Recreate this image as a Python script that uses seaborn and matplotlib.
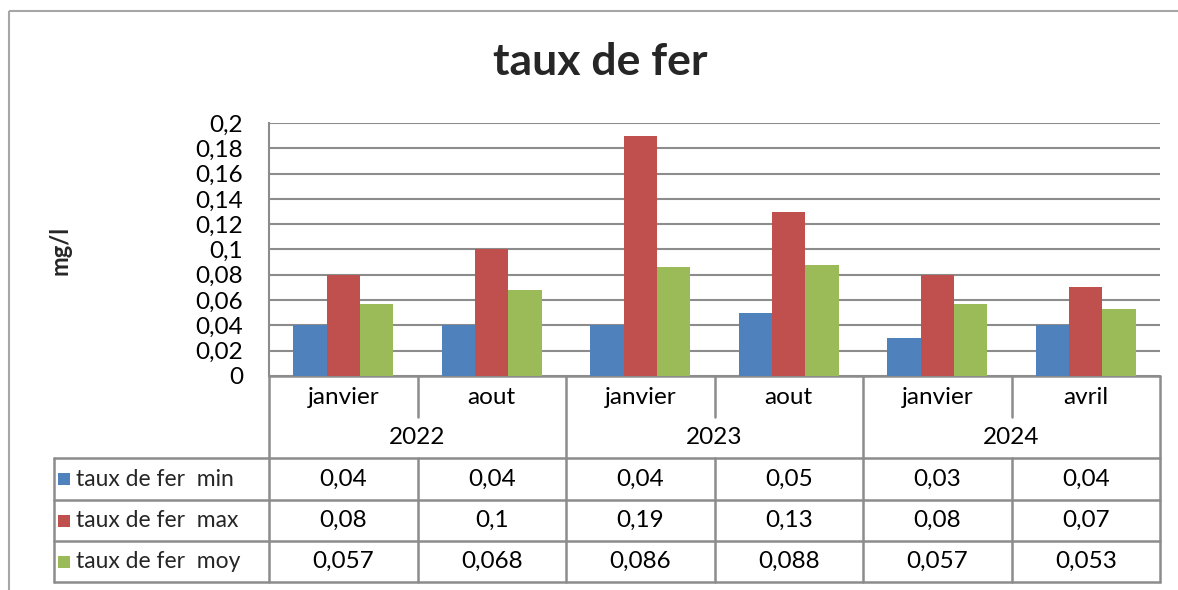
"""
taux de fer : barres groupées avec table de données sous le graphique (style Excel).
"""

import pandas as pd
import matplotlib.pyplot as plt
import matplotlib.transforms as mtransforms
from matplotlib.patches import Rectangle
from matplotlib.ticker import FuncFormatter
import seaborn as sns

# Données
annees = ["2022", "2023", "2024"]
mois = ["janvier", "aout", "janvier", "aout", "janvier", "avril"]
annee_de_mois = ["2022", "2022", "2023", "2023", "2024", "2024"]
series = ["taux de fer  min", "taux de fer  max", "taux de fer  moy"]
fer_min = [0.04, 0.04, 0.04, 0.05, 0.03, 0.04]
fer_max = [0.08, 0.1, 0.19, 0.13, 0.08, 0.07]
fer_moy = [0.057, 0.068, 0.086, 0.088, 0.057, 0.053]
couleurs = ["#4F81BD", "#C0504D", "#9BBB59"]

periodes = [f"{a} {m}" for a, m in zip(annee_de_mois, mois)]
df = pd.DataFrame({
    "periode": periodes * 3,
    "serie": [s for s in series for _ in periodes],
    "valeur": fer_min + fer_max + fer_moy,
})


def virgule(v):
    s = f"{v:.3f}".rstrip("0").rstrip(".")
    return s.replace(".", ",")


sns.set_style("white")
plt.rcParams["font.family"] = ["Lato", "DejaVu Sans"]

W, H = 1178, 590
FS = 17.5
fig = plt.figure(figsize=(W / 100, H / 100), dpi=100)

# axe "pixels" pour le cadre et la table
tax = fig.add_axes([0, 0, 1, 1], zorder=0)
tax.set_xlim(0, W)
tax.set_ylim(H, 0)
tax.axis("off")

# axe du graphique
x0, x1, y_top, y_bot = 269, 1160, 123, 376
ax = fig.add_axes([x0 / W, 1 - y_bot / H, (x1 - x0) / W, (y_bot - y_top) / H], zorder=1)
ax.patch.set_alpha(0)

sns.barplot(
    data=df, x="periode", y="valeur", hue="serie", order=periodes,
    hue_order=series, palette=couleurs, saturation=1, width=0.674,
    linewidth=0, legend=False, ax=ax,
)
ax.set_xlim(-0.5, len(periodes) - 0.5)
ax.set_ylim(0, 0.2)
ax.set_yticks([i * 0.02 for i in range(11)])
ax.yaxis.set_major_formatter(FuncFormatter(lambda v, p: virgule(v)))
ax.tick_params(axis="y", length=0, pad=18.5, labelsize=FS, labelcolor="black")
ax.set_xticks([])
ax.set_xlabel("")
ax.set_ylabel("")
ax.grid(axis="y", color="#8c8c8c", linewidth=1.5)
ax.set_axisbelow(True)
for side in ["top", "right", "bottom"]:
    ax.spines[side].set_visible(False)
ax.spines["left"].set_color("#8c8c8c")
ax.spines["left"].set_linewidth(1.5)

# cadre du graphique
tax.add_patch(Rectangle((9, 11), W, H, fill=False, edgecolor="#a6a6a6", linewidth=1.5))

# titres
fig.text(600 / W, 1 - 62 / H, "taux de fer", ha="center", va="center",
         fontsize=32, fontweight="bold")
fig.text(60 / W, 1 - 250 / H, "mg/l", ha="center", va="center", rotation=90,
         fontsize=17, fontweight="bold")

# table de données (colonnes alignées sur l'axe x du graphique)
bt = mtransforms.blended_transform_factory(ax.transData, tax.transData)
lc, lw = "#8c8c8c", 1.8
y_mois, y_an = 376, 417
rows = [458, 500, 541, 582]
legende_x = 54
n = len(periodes)

# lignes horizontales
tax.plot([-0.5, n - 0.5], [y_mois, y_mois], color=lc, lw=lw, transform=bt)
for y in rows:
    tax.plot([legende_x, x1], [y, y], color=lc, lw=lw)
tax.plot([legende_x, legende_x], [rows[0], rows[-1]], color=lc, lw=lw)

# lignes verticales
for i in range(n + 1):
    xb = i - 0.5
    if i in (0, n) or annee_de_mois[i] != annee_de_mois[i - 1]:
        tax.plot([xb, xb], [y_mois, rows[-1]], color=lc, lw=lw, transform=bt)
    else:
        tax.plot([xb, xb], [y_mois, y_an], color=lc, lw=lw, transform=bt)
        tax.plot([xb, xb], [rows[0], rows[-1]], color=lc, lw=lw, transform=bt)

txt = dict(ha="center", va="center", fontsize=FS, color="black")
for i, m in enumerate(mois):
    tax.text(i, 397, m, transform=bt, **txt)
for a in annees:
    idx = [i for i, v in enumerate(annee_de_mois) if v == a]
    tax.text((idx[0] + idx[-1]) / 2, 437, a, transform=bt, **txt)

valeurs = [fer_min, fer_max, fer_moy]
for r, (nom, vals, c) in enumerate(zip(series, valeurs, couleurs)):
    yc = (rows[r] + rows[r + 1]) / 2
    tax.add_patch(Rectangle((58, yc - 6), 12, 12, facecolor=c, edgecolor="none"))
    tax.text(76, yc, nom, ha="left", va="center", fontsize=16.5)
    for i, v in enumerate(vals):
        tax.text(i, yc, virgule(v), transform=bt, **txt)

fig.savefig("out.png", dpi=100)
